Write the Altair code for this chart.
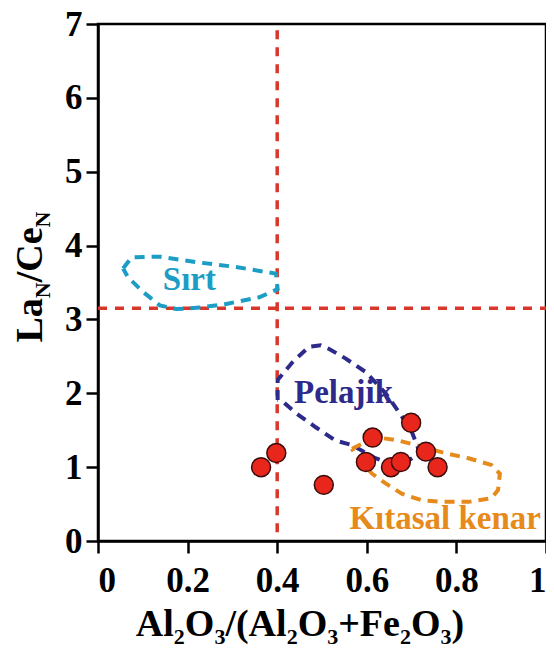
import altair as alt
import pandas as pd

# ---- data ----
sample_x = [0.364, 0.398, 0.504, 0.613, 0.598, 0.654, 0.676, 0.699, 0.732, 0.758]
sample_y = [1.00, 1.19, 0.76, 1.40, 1.07, 1.00, 1.07, 1.60, 1.21, 1.00]

sirt_x = [0.056, 0.075, 0.138, 0.227, 0.308, 0.397, 0.401, 0.360, 0.286, 0.227, 0.175, 0.138, 0.101, 0.067]
sirt_y = [3.69, 3.84, 3.85, 3.77, 3.71, 3.62, 3.41, 3.30, 3.21, 3.16, 3.14, 3.19, 3.37, 3.57]

pel_x = [0.401, 0.401, 0.434, 0.471, 0.497, 0.516, 0.553, 0.597, 0.642, 0.671, 0.699, 0.719,
         0.693, 0.656, 0.619, 0.567, 0.530, 0.486, 0.442, 0.412]
pel_y = [1.91, 2.18, 2.42, 2.63, 2.65, 2.60, 2.47, 2.29, 2.00, 1.75, 1.50, 1.19,
         1.09, 1.05, 1.12, 1.30, 1.36, 1.54, 1.73, 1.89]

kit_x = [0.567, 0.604, 0.638, 0.671, 0.722, 0.775, 0.827, 0.878, 0.897, 0.893, 0.878, 0.827,
         0.767, 0.723, 0.678, 0.642, 0.612, 0.575]
kit_y = [1.25, 1.36, 1.39, 1.36, 1.28, 1.19, 1.12, 1.03, 0.91, 0.69, 0.58, 0.53,
         0.53, 0.55, 0.64, 0.78, 0.91, 1.15]

region_names = ["Sırt", "Pelajik", "Kıtasal kenar"]
region_x = [0.204, 0.548, 0.775]
region_y = [3.53, 2.00, 0.30]
region_colors = ["#1b9dc6", "#2e2a8c", "#e68a1c"]

x_line = 0.4
y_line = 3.15
x_ticks = [0, 0.2, 0.4, 0.6, 0.8, 1]
y_ticks = [0, 1, 2, 3, 4, 5, 6, 7]

FONT = "Liberation Serif"
W, H = 448, 517
LEFT, TOP = 90, 16

xs = alt.Scale(domain=[0, 1], nice=False, zero=False)
ys = alt.Scale(domain=[0, 7], nice=False, zero=False)

base_df = pd.DataFrame({"x": sample_x, "y": sample_y})

axis_common = dict(labelFont=FONT, labelFontWeight="bold", labelFontSize=35, labelColor="black",
                   domainColor="black", domainWidth=2.5, tickColor="black", tickWidth=2.5,
                   tickSize=12, grid=False, title=None)

points = alt.Chart(base_df).mark_circle(
    size=360, color="#e8261c", opacity=1, stroke="#3a0c0c", strokeWidth=1.5
).encode(
    x=alt.X("x:Q", scale=xs, axis=alt.Axis(values=x_ticks, labelPadding=10,
            labelExpr="datum.value == 0 ? '0' : datum.value == 1 ? '1' : format(datum.value, '.1f')",
            **axis_common)),
    y=alt.Y("y:Q", scale=ys, axis=alt.Axis(values=y_ticks, labelPadding=4, format="d", **axis_common)),
)

vline = alt.Chart(pd.DataFrame({"x": [x_line], "y": [0.12], "y2": [7]})).mark_rule(
    color="#d8372a", strokeWidth=3.5, strokeDash=[9, 8]
).encode(x=alt.X("x:Q", scale=xs), y=alt.Y("y:Q", scale=ys), y2="y2:Q")

hline = alt.Chart(pd.DataFrame({"y": [y_line], "x": [0], "x2": [1]})).mark_rule(
    color="#d8372a", strokeWidth=3.5, strokeDash=[9, 8]
).encode(y=alt.Y("y:Q", scale=ys), x=alt.X("x:Q", scale=xs), x2="x2:Q")


def loop(xv, yv, color):
    df = pd.DataFrame({"x": xv + [xv[0]], "y": yv + [yv[0]], "o": list(range(len(xv) + 1))})
    return alt.Chart(df).mark_line(color=color, strokeWidth=4, strokeDash=[10, 7]).encode(
        x=alt.X("x:Q", scale=xs), y=alt.Y("y:Q", scale=ys), order="o:Q")


polys = [loop(sirt_x, sirt_y, region_colors[0]),
         loop(pel_x, pel_y, region_colors[1]),
         loop(kit_x, kit_y, region_colors[2])]

labels = []
for n, lx, ly, c in zip(region_names, region_x, region_y, region_colors):
    labels.append(alt.Chart(pd.DataFrame({"t": [n], "x": [lx], "y": [ly]})).mark_text(
        font=FONT, fontWeight="bold", fontSize=33, color=c, align="center", baseline="middle"
    ).encode(x=alt.X("x:Q", scale=xs), y=alt.Y("y:Q", scale=ys), text="t:N"))

# ---- axis titles with subscripts (layout helpers) ----
TB = {'A': 0.722, 'l': 0.278, 'O': 0.778, '/': 0.278, '(': 0.333, ')': 0.333, '+': 0.570,
      'F': 0.611, 'e': 0.444, '2': 0.5, '3': 0.5, 'L': 0.667, 'a': 0.5, 'C': 0.722, 'N': 0.722}


def tw(s, size):
    return sum(TB.get(ch, 0.5) for ch in s) * size


title_marks = []
ox, oy = 8 + LEFT, 8 + TOP  # page position of the plot origin

XBIG, XSUB = 38, 22
xt_pieces = [("Al", 0), ("2", 1), ("O", 0), ("3", 1), ("/(Al", 0), ("2", 1), ("O", 0), ("3", 1),
             ("+Fe", 0), ("2", 1), ("O", 0), ("3", 1), (")", 0)]
total = sum(tw(p, XSUB if s else XBIG) for p, s in xt_pieces)
pos = (300 - ox) - total / 2
for p, s in xt_pieces:
    size = XSUB if s else XBIG
    title_marks.append(alt.Chart(pd.DataFrame({"t": [p]})).mark_text(
        font=FONT, fontWeight="bold", fontSize=size, color="black", align="left",
        baseline="alphabetic", x=pos, y=(636 - oy) + (8 if s else 0)
    ).encode(text="t:N"))
    pos += tw(p, size)

YBIG, YSUB = 38, 22
yt_pieces = [("La", 0), ("N", 1), ("/Ce", 0), ("N", 1)]
total = sum(tw(p, YSUB if s else YBIG) for p, s in yt_pieces)
pos = (277 - oy) + total / 2
for p, s in yt_pieces:
    size = YSUB if s else YBIG
    title_marks.append(alt.Chart(pd.DataFrame({"t": [p]})).mark_text(
        font=FONT, fontWeight="bold", fontSize=size, color="black", align="left",
        baseline="alphabetic", angle=270, y=pos, x=(42 - ox) + (8 if s else 0)
    ).encode(text="t:N"))
    pos -= tw(p, size)

chart = alt.layer(vline, hline, *polys, *labels, points, *title_marks).properties(
    width=W, height=H,
    autosize=alt.AutoSizeParams(type="none"),
    padding={"left": LEFT, "top": TOP, "right": 0, "bottom": 108},
).configure_view(stroke="black", strokeWidth=2.5)

chart.save("out.html", embed_options={"renderer": "svg", "actions": False})
